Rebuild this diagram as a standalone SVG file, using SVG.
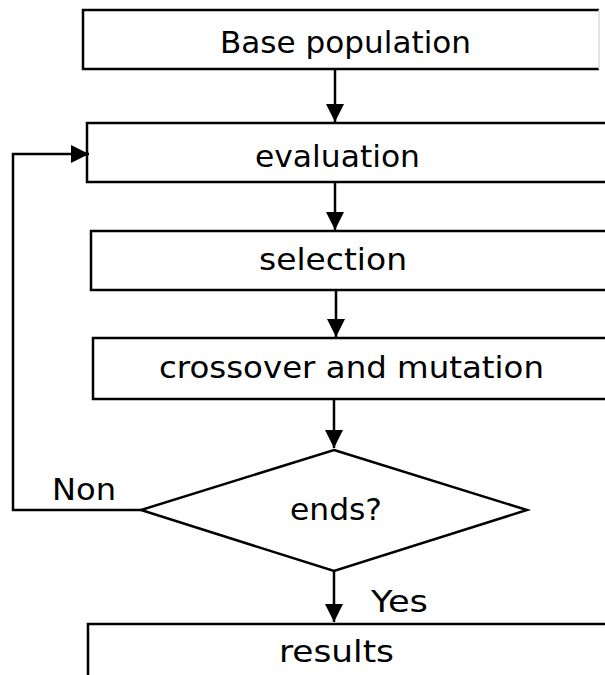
<svg xmlns="http://www.w3.org/2000/svg" width="605" height="675" viewBox="0 0 605 675">
  <style>
    .box { fill: #fff; stroke: #000; stroke-width: 2.5; }
    .lbl { font-family: "DejaVu Sans", "Liberation Sans", sans-serif; font-size: 30px; fill: #000; }
    .edge { fill: none; stroke: #000; stroke-width: 2.5; }
  </style>
  <defs>
    <marker id="arrowBig" viewBox="0 0 10 10" refX="10" refY="5" markerWidth="18" markerHeight="18" markerUnits="userSpaceOnUse" orient="auto">
      <path d="M0,0 L10,5 L0,10 Z" fill="#000"/>
    </marker>
  </defs>

  <g id="base-population">
    <path d="M599,10 H83 V69 H599" class="edge"/>
    <line x1="599" y1="10" x2="599" y2="69" stroke="#d8d8d8" stroke-width="1.5"/>
    <text class="lbl" x="220" y="53" textLength="251" lengthAdjust="spacingAndGlyphs">Base population</text>
  </g>

  <g id="evaluation">
    <rect class="box" x="87" y="123" width="540" height="59"/>
    <text class="lbl" x="255" y="167" textLength="165" lengthAdjust="spacingAndGlyphs">evaluation</text>
  </g>

  <g id="selection">
    <rect class="box" x="91" y="231" width="540" height="59"/>
    <text class="lbl" x="259" y="270" textLength="148" lengthAdjust="spacingAndGlyphs">selection</text>
  </g>

  <g id="crossover-mutation">
    <rect class="box" x="93" y="338" width="540" height="61"/>
    <text class="lbl" x="159" y="378" textLength="385" lengthAdjust="spacingAndGlyphs">crossover and mutation</text>
  </g>

  <g id="ends">
    <polygon class="box" points="334,450 527,510 334,571 141,510"/>
    <text class="lbl" x="290" y="520" textLength="92" lengthAdjust="spacingAndGlyphs">ends?</text>
  </g>

  <g id="results">
    <rect class="box" x="88" y="624" width="540" height="70"/>
    <text class="lbl" x="279" y="662" textLength="115" lengthAdjust="spacingAndGlyphs">results</text>
  </g>

  <g id="connectors">
    <line class="edge" x1="335" y1="70" x2="335" y2="122" marker-end="url(#arrowBig)"/>
    <line class="edge" x1="335" y1="183" x2="335" y2="230" marker-end="url(#arrowBig)"/>
    <line class="edge" x1="336" y1="291" x2="336" y2="337" marker-end="url(#arrowBig)"/>
    <line class="edge" x1="334" y1="400" x2="334" y2="448" marker-end="url(#arrowBig)"/>
    <line class="edge" x1="334" y1="572" x2="334" y2="622" marker-end="url(#arrowBig)"/>
    <path class="edge" d="M141,510 H13 V154 H89" marker-end="url(#arrowBig)"/>
    <text class="lbl" x="52" y="500" textLength="64" lengthAdjust="spacingAndGlyphs">Non</text>
    <text class="lbl" x="371" y="612" textLength="57" lengthAdjust="spacingAndGlyphs">Yes</text>
  </g>
</svg>
